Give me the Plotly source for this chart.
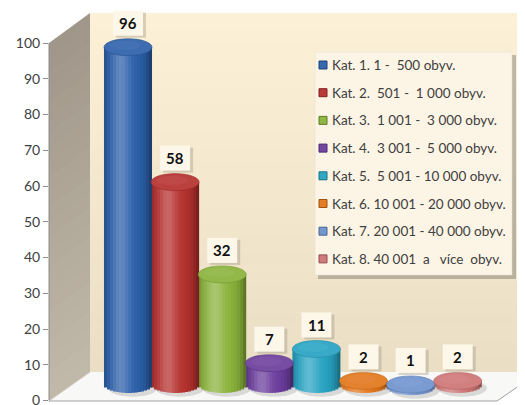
import numpy as np
import plotly.graph_objects as go

# ---------------- data ----------------
categories = [
    "Kat. 1. 1 -\u00a0 500 obyv.",
    "Kat. 2.\u00a0 501 -\u00a0 1 000 obyv.",
    "Kat. 3.\u00a0 1 001 -\u00a0 3 000 obyv.",
    "Kat. 4.\u00a0 3 001 -\u00a0 5 000 obyv.",
    "Kat. 5.\u00a0 5 001 - 10 000 obyv.",
    "Kat. 6. 10 001 - 20 000 obyv.",
    "Kat. 7. 20 001 - 40 000 obyv.",
    "Kat. 8. 40 001\u00a0 a\u00a0\u00a0 více\u00a0 obyv.",
]
values = [96, 58, 32, 7, 11, 2, 1, 2]
bar_colors = ["#2C5FA9", "#B5312E", "#8AB23A", "#6B3D9C",
              "#27A3C2", "#E2761B", "#6E92CE", "#CE7475"]
tick_vals = list(range(0, 101, 10))

# ---------------- helpers ----------------
W_FIG, H_FIG = 525, 405
OFF = 8            # page body margin offset
L_M = 49 - OFF     # left margin in figure px
PW = W_FIG - L_M


def px(x):  # page x -> paper
    return (x - OFF - L_M) / PW


def py(y):  # page y -> paper
    return (H_FIG - (y - OFF)) / H_FIG


def hex2rgb(h):
    h = h.lstrip("#")
    return np.array([int(h[i:i + 2], 16) for i in (0, 2, 4)], dtype=float)


def rgb2str(c):
    c = np.clip(c, 0, 255)
    return "rgb(%d,%d,%d)" % tuple(int(round(v)) for v in c)


def mix(a, b, t):
    return a * (1 - t) + b * t


def path_of(pts):
    return "M" + " L".join("%f,%f" % (px(a), py(b)) for a, b in pts) + " Z"


WHITE = np.array([255.0, 255.0, 255.0])
BLACK = np.array([0.0, 0.0, 0.0])

# axis scales (page pixel mapping)
unit_x = 47.1
x_min = -(128 - OFF - L_M) / unit_x
x_max = x_min + PW / unit_x
y_unit = 3.575
y_min = -(H_FIG - (400.5 - OFF)) / y_unit
y_max = y_min + H_FIG / y_unit
y2_unit = 3.55
y2_min = -(H_FIG - (388 - OFF)) / y2_unit
y2_max = y2_min + H_FIG / y2_unit
ry = 8.5 / y2_unit
bar_w = 1.02

fig = go.Figure()

# ---------------- cylinders as shaded strips ----------------
N = 16
xs = np.arange(len(values))
bottoms = [min(1.0, v - 0.6) for v in values]
for k in range(N):
    u = -1 + (2 * k + 1) / N
    e = ry * np.sqrt(max(0.0, 1 - u * u))
    light = 0.26 * np.exp(-((u + 0.3) / 0.38) ** 2)
    dark = 0.42 * ((u + 0.1) / 1.1) ** 4
    cols = []
    for c in bar_colors:
        b = hex2rgb(c)
        cc = mix(b, BLACK, dark)
        cc = mix(cc, WHITE, light)
        cols.append(rgb2str(cc))
    off = -bar_w / 2 + k * bar_w / N
    wid = bar_w / N + (0.02 if k < N - 1 else 0)
    fig.add_trace(go.Bar(
        x=xs, y=[v - (b0 - e) for v, b0 in zip(values, bottoms)],
        base=[b0 - e for b0 in bottoms],
        offset=off, width=wid, yaxis="y2",
        marker=dict(color=cols, line=dict(width=0)),
        showlegend=False, hoverinfo="skip",
    ))

shapes = []

# back wall (vertical gradient bands)
nb = 24
top_c, bot_c = hex2rgb("#FCF0D7"), hex2rgb("#EADEC5")
for j in range(nb):
    y0 = 13 + (372 - 13) * j / nb
    y1 = 13 + (372 - 13) * (j + 1) / nb + 0.5
    shapes.append(dict(type="rect", xref="paper", yref="paper",
                       x0=px(90), x1=px(540), y0=py(y1), y1=py(y0),
                       fillcolor=rgb2str(mix(top_c, bot_c, j / (nb - 1))),
                       line=dict(width=0), layer="below"))
# side wall (bands)
sw_top, sw_bot = hex2rgb("#A0978A"), hex2rgb("#C0B8A8")
for j in range(nb):
    t0, t1 = j / nb, (j + 1) / nb + 0.002
    p = [(49, 43 + (401 - 43) * t0), (90, 13 + (372 - 13) * t0),
         (90, 13 + (372 - 13) * t1), (49, 43 + (401 - 43) * t1)]
    shapes.append(dict(type="path", xref="paper", yref="paper", path=path_of(p),
                       fillcolor=rgb2str(mix(sw_top, sw_bot, j / (nb - 1))),
                       line=dict(width=0), layer="below"))
# floor
fp = [(49, 401), (90, 372), (540, 372), (540, 371), (526, 381), (497, 401)]
shapes.append(dict(type="path", xref="paper", yref="paper", path=path_of(fp),
                   fillcolor="#F8F8F6", line=dict(width=0), layer="below"))
shapes.append(dict(type="path", xref="paper", yref="paper",
                   path="M%f,%f L%f,%f L%f,%f" % (px(49), py(401), px(497), py(401), px(526), py(381)),
                   line=dict(color="#A0A0A0", width=1), layer="below"))
shapes.append(dict(type="line", xref="paper", yref="paper",
                   x0=px(49), y0=py(401), x1=px(90), y1=py(372),
                   line=dict(color="#D0CCC4", width=1), layer="below"))
# y axis line
shapes.append(dict(type="line", xref="paper", yref="y", x0=0, x1=0, y0=0, y1=100,
                   line=dict(color="#8C8C8C", width=1), layer="below"))

# shadows on floor
for i, b0 in enumerate(bottoms):
    shapes.append(dict(type="circle", xref="x", yref="y2",
                       x0=i - 0.42, x1=i + 0.62, y0=b0 - ry * 1.1 - 0.8, y1=b0 + ry * 0.9 - 0.8,
                       fillcolor="rgba(110,110,110,0.22)", line=dict(width=0), layer="below"))

# caps
for i, (v, c) in enumerate(zip(values, bar_colors)):
    b = hex2rgb(c)
    shapes.append(dict(type="circle", xref="x", yref="y2",
                       x0=i - bar_w / 2, x1=i + bar_w / 2, y0=v - ry, y1=v + ry,
                       fillcolor=rgb2str(mix(b, WHITE, 0.08)),
                       line=dict(color=rgb2str(mix(b, BLACK, 0.15)), width=0.6),
                       layer="above"))
    shapes.append(dict(type="circle", xref="x", yref="y2",
                       x0=i - bar_w / 2 + 0.12, x1=i + bar_w / 2 - 0.25,
                       y0=v - ry * 0.35, y1=v + ry * 0.75,
                       fillcolor=rgb2str(mix(b, WHITE, 0.14)),
                       opacity=0.6, line=dict(width=0), layer="above"))

# value label boxes (pixel-sized, anchored at data points)
LBL_UP = 24
for i, v in enumerate(values):
    shapes.append(dict(type="rect", xref="x", yref="y2",
                       xsizemode="pixel", ysizemode="pixel", xanchor=i, yanchor=v,
                       x0=-15 + 3, x1=15 + 3, y0=LBL_UP - 12.5 - 2, y1=LBL_UP + 12.5 - 2,
                       fillcolor="rgba(150,140,120,0.35)", line=dict(width=0), layer="above"))
    shapes.append(dict(type="rect", xref="x", yref="y2",
                       xsizemode="pixel", ysizemode="pixel", xanchor=i, yanchor=v,
                       x0=-15, x1=15, y0=LBL_UP - 12.5, y1=LBL_UP + 12.5,
                       fillcolor="#FDF7EA", line=dict(width=0), layer="above"))

# legend box (manual)
LB = (315, 52, 512, 275)
shapes.append(dict(type="rect", xref="paper", yref="paper",
                   x0=px(LB[0] + 3), x1=px(LB[2] + 4), y0=py(LB[3] + 4), y1=py(LB[1] + 3),
                   fillcolor="rgba(120,115,105,0.45)", line=dict(width=0), layer="above"))
shapes.append(dict(type="rect", xref="paper", yref="paper",
                   x0=px(LB[0]), x1=px(LB[2]), y0=py(LB[3]), y1=py(LB[1]),
                   fillcolor="#FCF4E4", line=dict(color="#E6DED0", width=0.5), layer="above"))

annotations = []
for k, (name, c) in enumerate(zip(categories, bar_colors)):
    yc = 65 + k * 27.7
    b = hex2rgb(c)
    shapes.append(dict(type="rect", xref="paper", yref="paper",
                       x0=px(319), x1=px(327), y0=py(yc + 4), y1=py(yc - 4),
                       fillcolor=rgb2str(mix(b, WHITE, 0.05)),
                       line=dict(color=rgb2str(mix(b, BLACK, 0.3)), width=1), layer="above"))
    annotations.append(dict(text=name, xref="paper", yref="paper", x=px(330), y=py(yc),
                            xanchor="left", yanchor="middle", showarrow=False,
                            font=dict(family="Lato", size=13.5, color="#404040")))

# value labels
for i, v in enumerate(values):
    annotations.append(dict(text="<b>%d</b>" % v, x=i, y=v, xref="x", yref="y2",
                            yshift=LBL_UP, showarrow=False,
                            xanchor="center", yanchor="middle",
                            font=dict(family="Lato", size=15, color="#111111")))

fig.update_layout(
    width=W_FIG, height=H_FIG,
    margin=dict(l=L_M, r=0, t=0, b=0),
    paper_bgcolor="white", plot_bgcolor="rgba(0,0,0,0)",
    barmode="overlay", showlegend=False,
    xaxis=dict(range=[x_min, x_max], visible=False, fixedrange=True),
    yaxis=dict(range=[y_min, y_max], tickvals=tick_vals, ticks="outside", ticklen=5,
               tickcolor="#8C8C8C", showgrid=False, zeroline=False, showline=False,
               tickfont=dict(family="Lato", size=14, color="#404040")),
    yaxis2=dict(range=[y2_min, y2_max], overlaying="y", visible=False),
    shapes=shapes, annotations=annotations,
)

fig.write_html("out.html")
